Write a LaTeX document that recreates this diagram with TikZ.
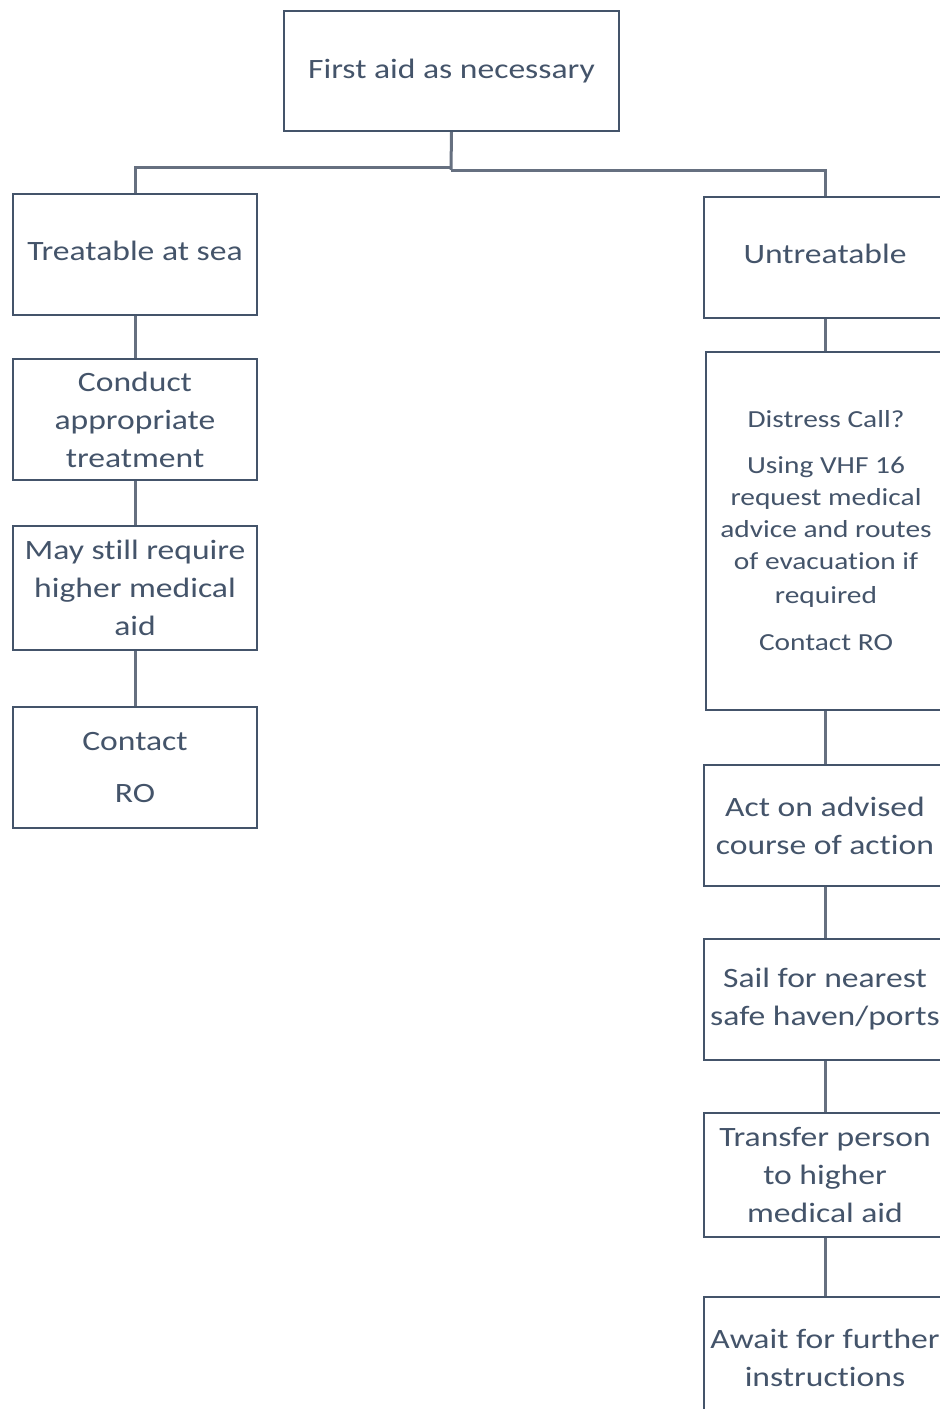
\documentclass[tikz,border=0pt]{standalone}
\usepackage{fontspec}
\setmainfont[FakeStretch=1.2,Ligatures={NoCommon}]{Carlito}
\definecolor{slate}{HTML}{44546A}
\definecolor{conn}{HTML}{667080}
\begin{document}
\begin{tikzpicture}[x=1pt,y=-1pt,
  box/.style={draw=slate, line width=2.2pt, rectangle, inner sep=0pt, align=center,
    text=slate, font=\fontsize{28}{38}\selectfont},
  small/.style={font=\fontsize{24.5}{32}\selectfont},
  conline/.style={draw=conn, line width=3pt}]
\useasboundingbox (0,0) rectangle (940,1409);
\clip (0,0) rectangle (940,1409);
\fill[white] (0,0) rectangle (940,1409);
% top
\node[box, minimum width=335pt, minimum height=120pt] (first) at (451.5,71) {First aid as necessary};
% left column
\node[box, minimum width=244pt, minimum height=121pt] (treat) at (135,254.5) {Treatable at sea\\[-30pt]\mbox{}};
\node[box, minimum width=244pt, minimum height=121pt] (conduct) at (135,419.5) {Conduct\\appropriate\\treatment};
\node[box, minimum width=244pt, minimum height=124pt] (may) at (135,588) {May still require\\higher medical\\aid};
\node[box, minimum width=244pt, minimum height=121pt] (contact) at (135,767.5) {Contact\\[14pt]RO};
% right column
\node[box, minimum width=242pt, minimum height=121pt] (untreat) at (825,257.5) {Untreatable\\[-30pt]\mbox{}};
\node[box, small, minimum width=240pt, minimum height=358pt] (distress) at (826,531) {Distress Call?\\[14pt]Using VHF 16\\request medical\\advice and routes\\of evacuation if\\[2pt]required\\[15pt]Contact RO};
\node[box, minimum width=242pt, minimum height=121pt] (act) at (825,825.5) {Act on advised\\course of action};
\node[box, minimum width=242pt, minimum height=121pt] (sail) at (825,999.5) {Sail for nearest\\safe haven/ports};
\node[box, minimum width=242pt, minimum height=124pt] (transfer) at (825,1175) {Transfer person\\to higher\\medical aid};
\node[box, minimum width=242pt, minimum height=121pt] (await) at (825,1357.5) {Await for further\\instructions};
% connectors
\coordinate (jl) at (451,167);
\coordinate (jr) at (451,170);
\draw[conline] (first.south) -- (jr);
\draw[conline] (jl) -| (treat.north);
\draw[conline] (jr) -| (untreat.north);
\draw[conline] (treat.south) -- (conduct.north);
\draw[conline] (conduct.south) -- (may.north);
\draw[conline] (may.south) -- (contact.north);
\draw[conline] (untreat.south) -- (untreat.south |- distress.north);
\draw[conline] (untreat.south |- distress.south) -- (act.north);
\draw[conline] (act.south) -- (sail.north);
\draw[conline] (sail.south) -- (transfer.north);
\draw[conline] (transfer.south) -- (await.north);
\end{tikzpicture}
\end{document}
